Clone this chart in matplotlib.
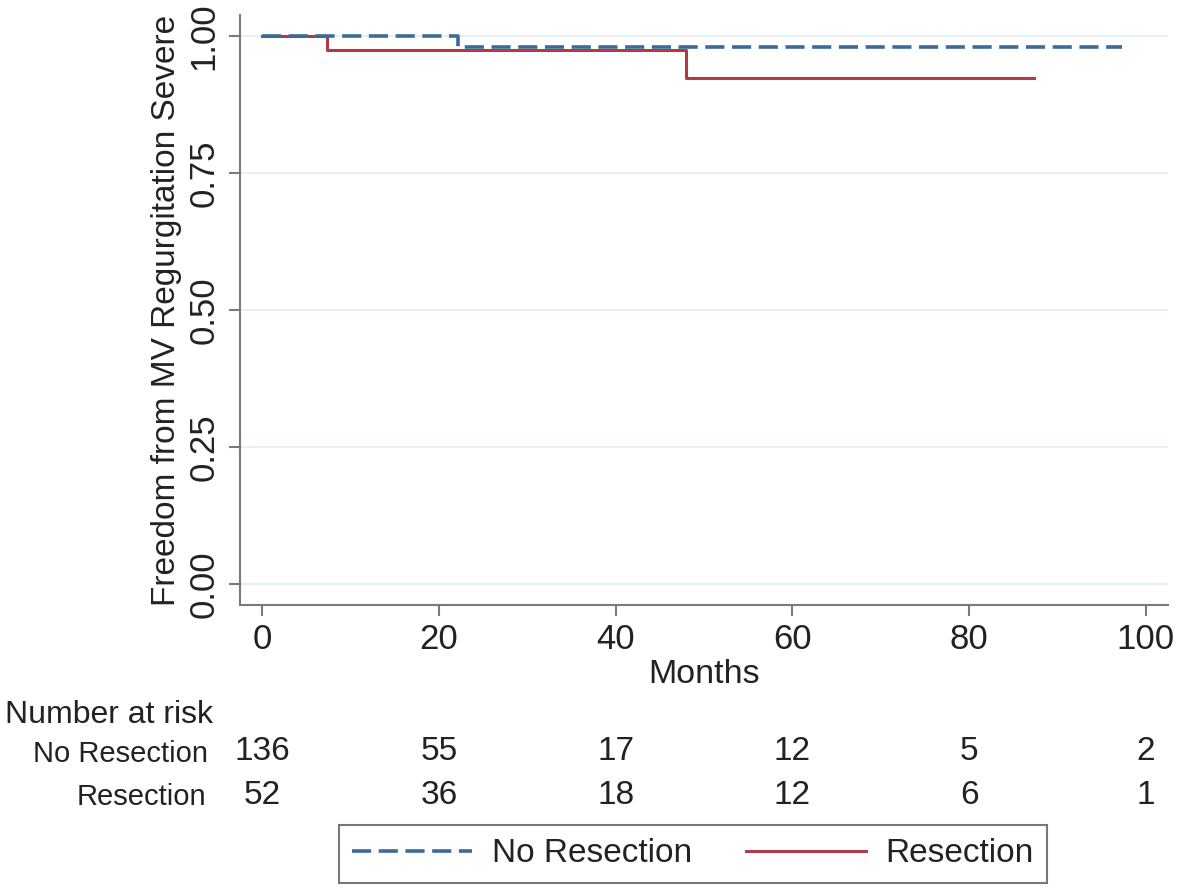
import matplotlib
matplotlib.use("Agg")
import matplotlib.pyplot as plt
from matplotlib.lines import Line2D

# Data
no_res_t = [0, 22.2, 97.3]
no_res_s = [1.00, 0.980, 0.980]
res_t = [0, 7.3, 48.0, 87.3]
res_s = [1.00, 0.975, 0.923, 0.923]

risk_times = [0, 20, 40, 60, 80, 100]
risk_no_res = [136, 55, 17, 12, 5, 2]
risk_res = [52, 36, 18, 12, 6, 1]

yticks = [0.00, 0.25, 0.50, 0.75, 1.00]
xticks = [0, 20, 40, 60, 80, 100]

NARROW = ["Liberation Sans Narrow", "Liberation Sans", "DejaVu Sans"]
REG = ["Liberation Sans", "DejaVu Sans"]

blue = "#3d6b98"
red = "#b03a46"
grid_c = "#e6eff3"
spine_c = "#7a7a7a"
txt_c = "#222222"

W, H = 1181, 892
fig = plt.figure(figsize=(W / 100, H / 100), dpi=100)
ax = fig.add_axes([240 / W, 1 - 605 / H, (1168 - 240) / W, (605 - 15) / H])

ax.set_xlim(-2.5, 102.5)
ax.set_ylim(-0.038, 1.038)

for y in yticks:
    ax.axhline(y, color=grid_c, lw=1.5, zorder=0)

ax.step(no_res_t, no_res_s, where="post", color=blue, lw=2.6, ls=(0, (5.3, 2.1)), zorder=3)
ax.step(res_t, res_s, where="post", color=red, lw=2.2, zorder=2)

ax.set_xticks(xticks)
ax.set_yticks(yticks)
ax.set_xticklabels([str(v) for v in xticks], family=NARROW, fontsize=25, color=txt_c)
ax.set_yticklabels([f"{v:.2f}" for v in yticks], rotation=90, va="center",
                   family=REG, fontsize=25, color=txt_c)
ax.tick_params(axis="both", length=8, width=1.5, color=spine_c)
ax.tick_params(axis="y", pad=6)
ax.tick_params(axis="x", pad=5)
for s in ["top", "right"]:
    ax.spines[s].set_visible(False)
for s in ["left", "bottom"]:
    ax.spines[s].set_color(spine_c)
    ax.spines[s].set_linewidth(1.5)

ax.set_xlabel("Months", family=NARROW, fontsize=24.5, color=txt_c, labelpad=2)
ax.set_ylabel("Freedom from MV Regurgitation Severe", family=REG, fontsize=24,
              color=txt_c, labelpad=4)

# Number at risk table
fig.text(5 / W, 1 - 715 / H, "Number at risk", family=REG, fontsize=23,
         va="center", ha="left", color=txt_c)
fig.text(208 / W, 1 - 754 / H, "No Resection", family=REG, fontsize=21,
         va="center", ha="right", color=txt_c)
fig.text(206 / W, 1 - 797 / H, "Resection", family=REG, fontsize=21,
         va="center", ha="right", color=txt_c)
inv = fig.transFigure.inverted()
for t, a, b in zip(risk_times, risk_no_res, risk_res):
    xfig = inv.transform(ax.transData.transform((t, 0)))[0]
    fig.text(xfig, 1 - 752 / H, str(a), family=NARROW, fontsize=24,
             va="center", ha="center", color=txt_c)
    fig.text(xfig, 1 - 795 / H, str(b), family=NARROW, fontsize=24,
             va="center", ha="center", color=txt_c)

handles = [Line2D([], [], color=blue, lw=2.6, ls=(0, (5.3, 2.1))),
           Line2D([], [], color=red, lw=2.2)]
leg = fig.legend(handles, ["No Resection", "Resection"], loc="center",
                 bbox_to_anchor=(693 / W, 1 - 854 / H), ncol=2,
                 prop={"family": NARROW, "size": 24},
                 frameon=True, fancybox=False, handlelength=3.6, columnspacing=1.6,
                 borderpad=0.4, handletextpad=0.6, borderaxespad=0)
for t in leg.get_texts():
    t.set_color(txt_c)
leg.get_frame().set_edgecolor("#555555")
leg.get_frame().set_linewidth(1.5)

fig.savefig("out.png", dpi=100)
